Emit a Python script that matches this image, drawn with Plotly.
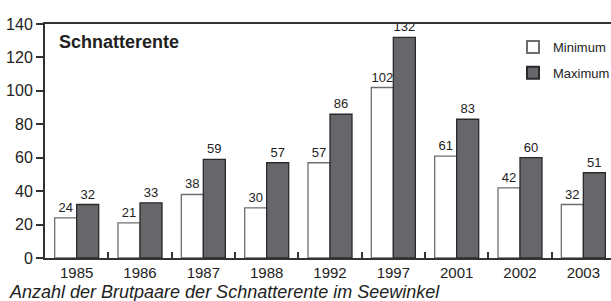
import plotly.graph_objects as go

years = ["1985", "1986", "1987", "1988", "1992", "1997", "2001", "2002", "2003"]
minimum = [24, 21, 38, 30, 57, 102, 61, 42, 32]
maximum = [32, 33, 59, 57, 86, 132, 83, 60, 51]
y_ticks = [0, 20, 40, 60, 80, 100, 120, 140]

FONT = "Liberation Sans, Arial, sans-serif"

fig = go.Figure()
fig.add_trace(go.Bar(
    x=years, y=minimum, name="Minimum",
    marker=dict(color="white", line=dict(color="#6e6e6e", width=1.3)),
    text=minimum, textposition="outside", cliponaxis=False,
    textfont=dict(size=13, color="#222", family=FONT),
    legendgroup="a",
))
fig.add_trace(go.Bar(
    x=years, y=maximum, name="Maximum",
    marker=dict(color="#67676b", line=dict(color="#2a2a2a", width=1.3)),
    text=maximum, textposition="outside", cliponaxis=False,
    textfont=dict(size=13, color="#222", family=FONT),
    legendgroup="b",
))

L, T, B = 45, 24, 43
W, H = 611, 301
pw = W - L
ph = H - T - B

def px(x):
    return (x - L) / pw

def py(y):
    return (H - B - y) / ph

fig.update_layout(
    width=W, height=H,
    margin=dict(l=L, r=0, t=T, b=B, pad=0, autoexpand=False),
    paper_bgcolor="white", plot_bgcolor="white",
    barmode="group", bargap=0.305, bargroupgap=0,
    font=dict(family=FONT, color="#222"),
    showlegend=True,
    legend=dict(
        x=px(513), y=py(32), xanchor="left", yanchor="top",
        font=dict(size=13, color="#222", family=FONT),
        bgcolor="rgba(0,0,0,0)", tracegroupgap=6,
        itemsizing="constant", itemwidth=30,
    ),
    xaxis=dict(
        range=[-0.5, 8.5 - 4 / 63.3],
        showline=True, linecolor="#333", linewidth=2, mirror=True,
        ticks="inside", tickson="boundaries", ticklen=6, tickwidth=1.5, tickcolor="#333",
        tickfont=dict(size=15, color="#222", family=FONT),
        showgrid=False, zeroline=False,
    ),
    yaxis=dict(
        range=[0, 140], tickvals=y_ticks,
        showline=True, linecolor="#333", linewidth=2, mirror=False,
        ticks="outside", ticklen=7, tickwidth=1.5, tickcolor="#333",
        tickfont=dict(size=16, color="#222", family=FONT),
        showgrid=False, zeroline=False,
    ),
    annotations=[
        dict(text="<b>Schnatterente</b>", x=px(57), y=py(42), xref="paper", yref="paper",
             xanchor="left", yanchor="middle", showarrow=False,
             font=dict(size=18, color="#222", family=FONT)),
        dict(text="<i>Anzahl der Brutpaare der Schnatterente im Seewinkel</i>",
             x=px(7), y=py(292), xref="paper", yref="paper",
             xanchor="left", yanchor="middle", showarrow=False,
             font=dict(size=18, color="#222", family=FONT)),
    ],
)

fig.write_html("out.html", config={"displayModeBar": False},
               post_script="document.body.style.margin='0';")
